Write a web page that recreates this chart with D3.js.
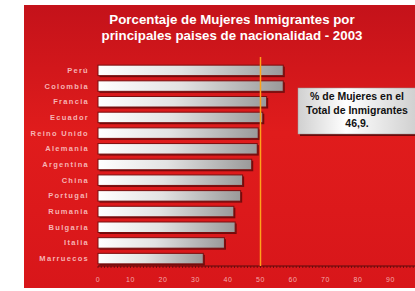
<!DOCTYPE html>
<html>
<head>
<meta charset="utf-8">
<script src="https://cdn.jsdelivr.net/npm/d3@7"></script>
<style>
  body { margin: 0; background: #fff; }
  svg { display: block; font-family: "Liberation Sans", Arial, sans-serif; }
</style>
</head>
<body>
<script>
    // data
    const countries = ["Perú", "Colombia", "Francia", "Ecuador", "Reino Unido", "Alemania", "Argentina",
        "China", "Portugal", "Rumania", "Bulgaria", "Italia", "Marruecos"]
    const pctWomen = [57.0, 57.0, 51.9, 50.7, 49.3, 49.0, 47.3, 44.5, 43.9, 41.8, 42.2, 38.9, 32.4]
    const xTicks = [0, 10, 20, 30, 40, 50, 60, 70, 80, 90]
    const refValue = 50
    const titleLines = ["Porcentaje de Mujeres Inmigrantes por", "principales paises de nacionalidad - 2003"]
    const noteLines = ["% de Mujeres en el", "Total de Inmigrantes", "46,9."]

    const W = 415, H = 291

    const svg = d3.select('body').append('svg')
        .attr('width', W)
        .attr('height', H)

    const defs = svg.append('defs')

    const bg = defs.append('linearGradient').attr('id', 'bgGrad')
        .attr('x1', 0).attr('y1', 0).attr('x2', 0).attr('y2', 1)
    bg.append('stop').attr('offset', '0%').attr('stop-color', '#c4121a')
    bg.append('stop').attr('offset', '45%').attr('stop-color', '#e01c1c')
    bg.append('stop').attr('offset', '100%').attr('stop-color', '#d8161a')

    const barGrad = defs.append('linearGradient').attr('id', 'barGrad')
        .attr('x1', 0).attr('y1', 0).attr('x2', 1).attr('y2', 0)
    barGrad.append('stop').attr('offset', '0%').attr('stop-color', '#ffffff')
    barGrad.append('stop').attr('offset', '45%').attr('stop-color', '#e2e2e2')
    barGrad.append('stop').attr('offset', '100%').attr('stop-color', '#9a9a9a')

    const boxGrad = defs.append('linearGradient').attr('id', 'boxGrad')
        .attr('x1', 0).attr('y1', 0).attr('x2', 1).attr('y2', 0)
    boxGrad.append('stop').attr('offset', '0%').attr('stop-color', '#d0d0d0')
    boxGrad.append('stop').attr('offset', '40%').attr('stop-color', '#ffffff')
    boxGrad.append('stop').attr('offset', '100%').attr('stop-color', '#cfcfcf')

    // red panel
    svg.append('rect')
        .attr('x', 24).attr('y', 5)
        .attr('width', W - 24).attr('height', 283)
        .attr('fill', 'url(#bgGrad)')

    // title
    svg.append('g').selectAll('text')
        .data(titleLines)
        .enter().append('text')
        .attr('x', 232)
        .attr('y', (d, i) => 24 + i * 16)
        .attr('text-anchor', 'middle')
        .attr('fill', '#fff')
        .attr('font-weight', 'bold')
        .attr('font-size', 13.3)
        .text(d => d)

    const x = d3.scaleLinear().domain([0, 100]).range([98, 423])
    const y = d3.scaleBand().domain(countries).range([62, 267]).paddingInner(0.33).paddingOuter(0.2)

    // axis
    const axisG = svg.append('g').attr('transform', 'translate(0,266)')
    axisG.append('line')
        .attr('x1', x(0)).attr('x2', W)
        .attr('stroke', '#5a0a0a').attr('stroke-width', 1.2)
    axisG.selectAll('.minor')
        .data(d3.range(0, 100, 1))
        .enter().append('line')
        .attr('x1', d => x(d)).attr('x2', d => x(d))
        .attr('y1', 0).attr('y2', 2)
        .attr('stroke', '#5a0a0a').attr('stroke-width', 0.8)
    axisG.selectAll('.lbl')
        .data(xTicks)
        .enter().append('text')
        .attr('x', d => x(d))
        .attr('y', 16)
        .attr('text-anchor', 'middle')
        .attr('fill', '#f4aaaa')
        .attr('font-size', 7)
        .attr('letter-spacing', 0.6)
        .text(d => d)

    // bars
    const rows = countries.map((c, i) => ({ name: c, value: pctWomen[i] }))
    const barG = svg.append('g')

    barG.selectAll('.shadow')
        .data(rows)
        .enter().append('rect')
        .attr('x', x(0) + 1.5)
        .attr('y', d => y(d.name) + 1.5)
        .attr('width', d => x(d.value) - x(0))
        .attr('height', y.bandwidth())
        .attr('fill', '#5a0808')
        .attr('opacity', 0.8)

    barG.selectAll('.bar')
        .data(rows)
        .enter().append('rect')
        .attr('x', x(0))
        .attr('y', d => y(d.name))
        .attr('width', d => x(d.value) - x(0))
        .attr('height', y.bandwidth())
        .attr('fill', 'url(#barGrad)')
        .attr('stroke', '#7a0e0e')
        .attr('stroke-width', 1)

    svg.append('g').selectAll('text')
        .data(rows)
        .enter().append('text')
        .attr('x', 89)
        .attr('y', d => y(d.name) + y.bandwidth() / 2 + 2.5)
        .attr('text-anchor', 'end')
        .attr('fill', '#f6b4b4')
        .attr('font-size', 7.5)
        .attr('font-weight', 'bold')
        .attr('letter-spacing', 1.3)
        .text(d => d.name)

    // reference line at 50
    svg.append('line')
        .attr('x1', x(refValue)).attr('x2', x(refValue))
        .attr('y1', 57).attr('y2', 266)
        .attr('stroke', '#ffa21a')
        .attr('stroke-width', 1.5)

    // note box
    svg.append('rect')
        .attr('x', 300).attr('y', 90)
        .attr('width', 120).attr('height', 46)
        .attr('fill', '#6a0a0a')
    svg.append('rect')
        .attr('x', 298).attr('y', 88)
        .attr('width', 120).attr('height', 46)
        .attr('fill', 'url(#boxGrad)')
        .attr('stroke', '#999').attr('stroke-width', 0.5)
    svg.append('g').selectAll('text')
        .data(noteLines)
        .enter().append('text')
        .attr('x', 357)
        .attr('y', (d, i) => 100 + i * 13.5)
        .attr('text-anchor', 'middle')
        .attr('fill', '#111')
        .attr('font-weight', 'bold')
        .attr('font-size', 10.5)
        .text(d => d)
</script>
</body>
</html>
